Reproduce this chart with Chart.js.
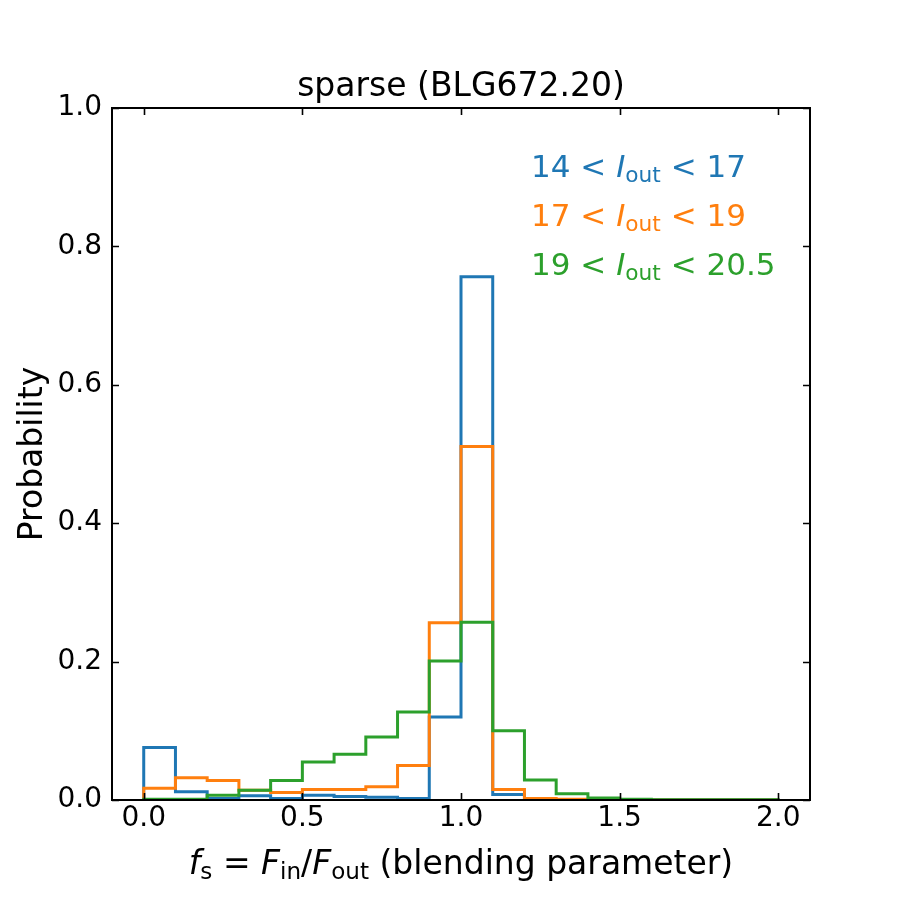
<!DOCTYPE html>
<html>
<head>
<meta charset="utf-8">
<title>sparse (BLG672.20)</title>
<script src="https://cdn.jsdelivr.net/npm/chart.js@4/dist/chart.umd.min.js"></script>
<style>
  html, body { margin: 0; padding: 0; background: #ffffff; }
  canvas { display: block; }
</style>
</head>
<body>
<canvas id="histChart" width="900" height="900"></canvas>
<script>
// bin left edges (width 0.1)
const binStarts = [0.0, 0.1, 0.2, 0.3, 0.4, 0.5, 0.6, 0.7, 0.8, 0.9,
                   1.0, 1.1, 1.2, 1.3, 1.4, 1.5, 1.6, 1.7, 1.8, 1.9];
const binWidth = 0.1;

// probabilities per bin, one array per magnitude range
const brightValues = [0.076, 0.012, 0.002, 0.006, 0.002, 0.007, 0.005, 0.004, 0.002, 0.120,
                      0.756, 0.008, 0.000, 0.000, 0.000, 0.000, 0.000, 0.000, 0.000, 0.000];
const mediumValues = [0.017, 0.032, 0.028, 0.014, 0.011, 0.015, 0.015, 0.019, 0.050, 0.256,
                      0.511, 0.015, 0.002, 0.001, 0.000, 0.000, 0.000, 0.000, 0.000, 0.000];
const faintValues  = [0.001, 0.001, 0.007, 0.014, 0.028, 0.055, 0.066, 0.091, 0.127, 0.201,
                      0.257, 0.100, 0.029, 0.009, 0.003, 0.001, 0.0005, 0.0003, 0.0005, 0.0003];

const xTicks = [0.0, 0.5, 1.0, 1.5, 2.0];
const yTicks = [0.0, 0.2, 0.4, 0.6, 0.8, 1.0];

const titleText = 'sparse (BLG672.20)';
const yLabelText = 'Probability';

const colors = {
    bright: '#1f77b4',
    medium: '#ff7f0e',
    faint: '#2ca02c'
};

const FONT = '"DejaVu Sans", sans-serif';
const LABEL_SIZE = 33;

// histtype='step' outline: up at first edge, steps, down at last edge
function stepPoints(values) {
    const pts = [{ x: binStarts[0], y: 0 }];
    values.forEach((v, i) => pts.push({ x: binStarts[i], y: v }));
    pts.push({ x: binStarts[binStarts.length - 1] + binWidth, y: 0 });
    return pts;
}

function makeDataset(label, values, color, order) {
    return {
        label: label,
        data: stepPoints(values),
        borderColor: color,
        backgroundColor: color,
        borderWidth: 3,
        stepped: 'before',
        pointRadius: 0,
        fill: false,
        order: order
    };
}

// parts: [{t, it, sub}] drawn left to right on one baseline
function richWidth(ctx, parts, size) {
    let w = 0;
    parts.forEach(p => {
        const s = p.sub ? size * 0.7 : size;
        ctx.font = (p.it ? 'italic ' : '') + s + 'px ' + FONT;
        w += ctx.measureText(p.t).width;
    });
    return w;
}

function drawRich(ctx, x, y, parts, size, color) {
    ctx.fillStyle = color;
    ctx.textBaseline = 'alphabetic';
    ctx.textAlign = 'left';
    parts.forEach(p => {
        const s = p.sub ? size * 0.7 : size;
        ctx.font = (p.it ? 'italic ' : '') + s + 'px ' + FONT;
        ctx.fillText(p.t, x, p.sub ? y + size * 0.16 : y);
        x += ctx.measureText(p.t).width;
    });
}

const xLabelParts = [
    { t: 'f', it: true }, { t: 's', sub: true }, { t: ' = ' },
    { t: 'F', it: true }, { t: 'in', sub: true }, { t: '/' },
    { t: 'F', it: true }, { t: 'out', sub: true }, { t: ' (blending parameter)' }
];

function rangeLabel(lo, hi) {
    return [{ t: lo + ' < ' }, { t: 'I', it: true }, { t: 'out', sub: true }, { t: ' < ' + hi }];
}

const legendRows = [
    { parts: rangeLabel('14', '17'), color: colors.bright },
    { parts: rangeLabel('17', '19'), color: colors.medium },
    { parts: rangeLabel('19', '20.5'), color: colors.faint }
];

// frame with inward ticks on all sides, plus the texts
const framePlugin = {
    id: 'frame',
    afterDraw(chart) {
        const ctx = chart.ctx;
        const a = chart.chartArea;
        const xs = chart.scales.x;
        const ys = chart.scales.y;
        const tl = 7;

        ctx.save();
        ctx.strokeStyle = '#000000';
        ctx.lineWidth = 2;
        ctx.strokeRect(a.left, a.top, a.right - a.left, a.bottom - a.top);

        ctx.lineWidth = 1.6;
        ctx.beginPath();
        xTicks.forEach(v => {
            const px = Math.round(xs.getPixelForValue(v)) + 0.5;
            ctx.moveTo(px, a.bottom); ctx.lineTo(px, a.bottom - tl);
            ctx.moveTo(px, a.top); ctx.lineTo(px, a.top + tl);
        });
        yTicks.forEach(v => {
            const py = Math.round(ys.getPixelForValue(v)) + 0.5;
            ctx.moveTo(a.left, py); ctx.lineTo(a.left + tl, py);
            ctx.moveTo(a.right, py); ctx.lineTo(a.right - tl, py);
        });
        ctx.stroke();

        // title
        ctx.fillStyle = '#000000';
        ctx.font = LABEL_SIZE + 'px ' + FONT;
        ctx.textAlign = 'center';
        ctx.textBaseline = 'alphabetic';
        ctx.fillText(titleText, (a.left + a.right) / 2, 96);

        // y axis label
        ctx.save();
        ctx.translate(42, (a.top + a.bottom) / 2);
        ctx.rotate(-Math.PI / 2);
        ctx.fillText(yLabelText, 0, 0);
        ctx.restore();

        // x axis label
        const w = richWidth(ctx, xLabelParts, LABEL_SIZE);
        drawRich(ctx, (a.left + a.right) / 2 - w / 2, 874, xLabelParts, LABEL_SIZE, '#000000');

        // range labels in the upper right
        legendRows.forEach((row, i) => {
            drawRich(ctx, 531, 177 + i * 49, row.parts, 31, row.color);
        });
        ctx.restore();
    }
};

const ctx = document.getElementById('histChart').getContext('2d');
new Chart(ctx, {
    type: 'line',
    data: {
        datasets: [
            makeDataset('14 < I_out < 17', brightValues, colors.bright, 3),
            makeDataset('17 < I_out < 19', mediumValues, colors.medium, 2),
            makeDataset('19 < I_out < 20.5', faintValues, colors.faint, 1)
        ]
    },
    options: {
        responsive: false,
        animation: false,
        layout: { padding: { left: 0, top: 108, right: 90, bottom: 0 } },
        plugins: {
            legend: { display: false },
            title: { display: false },
            tooltip: { enabled: false }
        },
        scales: {
            x: {
                type: 'linear',
                min: -0.1,
                max: 2.1,
                grid: { display: false, drawTicks: false },
                border: { display: false },
                afterBuildTicks: scale => { scale.ticks = xTicks.map(v => ({ value: v })); },
                afterFit: scale => { scale.height = 100; },
                ticks: {
                    color: '#000000',
                    font: { family: FONT, size: 28 },
                    padding: 2,
                    maxRotation: 0,
                    callback: v => v.toFixed(1)
                }
            },
            y: {
                type: 'linear',
                min: 0,
                max: 1,
                grid: { display: false, drawTicks: false },
                border: { display: false },
                afterBuildTicks: scale => { scale.ticks = yTicks.map(v => ({ value: v })); },
                afterFit: scale => { scale.width = 112; },
                ticks: {
                    color: '#000000',
                    font: { family: FONT, size: 28 },
                    padding: 10,
                    callback: v => v.toFixed(1)
                }
            }
        }
    },
    plugins: [framePlugin]
});
</script>
</body>
</html>
